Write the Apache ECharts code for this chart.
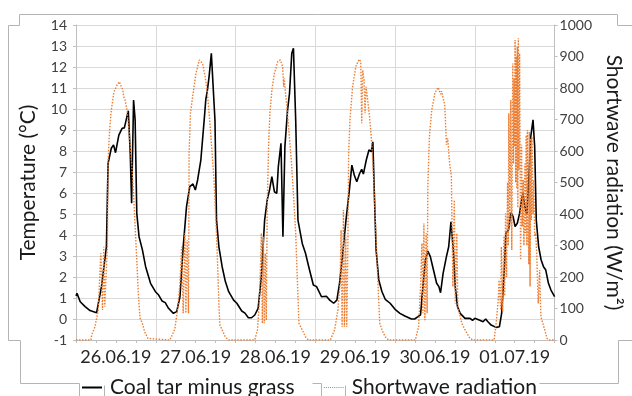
<!DOCTYPE html>
<html><head><meta charset="utf-8">
<script src="https://cdn.jsdelivr.net/npm/echarts@6/dist/echarts.min.js"></script>
<style>html,body{margin:0;padding:0;background:#fff}#c{width:632px;height:396px}</style>
</head><body><div id="c"></div>
<script>
// x values are hours since 26.06.19 00:00
const dayLabels = ['26.06.19','27.06.19','28.06.19','29.06.19','30.06.19','01.07.19'];
const tempName = 'Coal tar minus grass';
const radName = 'Shortwave radiation';
const tempData = [
[0,1.1],[0.3,1.22],[1.27,0.82],[2.74,0.59],[4.22,0.40],[6.2,0.30],[6.7,0.30],[7.67,1.54],[9.15,3.44],[9.65,7.41],
[10.62,8.13],[11.3,8.29],[11.89,7.92],[12.89,8.76],[13.37,8.7],[13.87,9.08],[14.55,9.1],[15.73,9.92],[16.32,7.89],[16.73,5.51],
[17.32,10.43],[17.79,9.48],[18.29,5.03],[18.97,3.92],[19.98,3.29],[20.95,2.49],[22.43,1.70],[23.9,1.30],[24.87,1.14],[25.88,0.86],
[26.85,0.78],[27.83,0.51],[29.3,0.27],[30.3,0.35],[31.28,1.06],[32.25,3.44],[33.25,5.35],[34.23,6.30],[35.2,6.43],[35.9,6.14],
[36.59,6.62],[37.56,7.57],[38.57,9.48],[39.04,10.43],[39.54,10.9],[40.04,11.54],[40.72,12.65],[41.31,12.68],[41.81,9.48],[42.28,4.71],
[42.99,3.44],[43.97,2.49],[44.94,1.78],[45.94,1.30],[47.42,0.90],[48.39,0.75],[49.87,0.38],[50.84,0.28],[51.85,0.06],[52.82,0.06],
[53.79,0.19],[54.8,0.51],[55.77,2.02],[56.75,4.71],[57.54,5.67],[58.22,6.14],[58.93,6.78],[59.69,6.06],[60.4,5.98],[60.87,7.25],
[61.67,8.37],[62.26,3.92],[62.85,8.21],[63.65,9.95],[64.24,10.75],[64.92,12.65],[65.42,12.89],[66.1,9.48],[66.78,4.71],[68.07,3.60],
[69.05,3.13],[70.02,2.49],[71.41,1.62],[72.38,1.54],[73.86,1.06],[75.33,1.08],[76.34,0.90],[77.52,0.75],[78.49,0.9],[79.29,1.70],
[80.26,3.13],[81.23,4.71],[82.24,6.14],[83.0,7.33],[83.71,6.86],[84.48,6.54],[85.36,6.94],[85.95,7.13],[86.46,6.90],[87.34,7.57],
[88.14,8.05],[88.82,7.97],[89.32,8.44],[89.7,6.30],[90.29,3.29],[91.09,1.86],[92.06,1.30],[93.04,0.94],[94.51,0.75],[95.99,0.46],
[97.46,0.27],[98.94,0.14],[100.92,0.0],[101.89,0.0],[102.89,0.11],[103.66,0.2],[104.37,1.54],[105.13,2.81],[105.84,3.24],[106.61,2.97],
[107.32,2.49],[107.7,2.41],[108.5,1.70],[109.18,1.54],[109.68,1.25],[110.45,2.17],[111.45,2.97],[112.13,3.44],[112.81,4.63],[113.6,3.13],
[114.1,1.54],[114.78,0.59],[115.58,0.27],[117.05,0.03],[118.53,0.03],[119.3,-0.06],[120.0,0.03],[121.48,-0.06],[122.46,-0.13],[123.25,0.0],
[123.93,-0.13],[124.9,-0.29],[126.38,-0.40],[127.38,-0.37],[128.06,0.27],[128.86,2.33],[129.33,4.08],[130.13,4.24],[130.81,5.06],[131.52,4.87],
[132.1,4.40],[132.78,4.56],[133.46,5.03],[134.05,5.67],[134.46,5.98],[135.05,5.35],[135.64,4.95],[136.23,6.62],[136.82,8.68],[137.5,9.48],
[138.0,8.21],[138.48,4.71],[139.19,3.44],[139.95,2.81],[140.66,2.49],[141.34,2.33],[142.14,1.70],[142.9,1.38],[144,1.06]
];
const radData = [
[0,0],[4.5,0],[4.72,16],[5.7,42],[6.7,95],[7.47,275],[7.97,95],[8.35,296],[8.65,106],[9.15,233],[9.44,296],[9.65,571],[10.12,667],[10.62,730],
[11.42,788],[12.39,810],[13.07,820],[13.3,812],[13.57,815],[14.08,794],[14.37,772],[14.75,762],[15.34,730],[16.02,656],[16.73,561],[17.32,466],
[17.79,360],[18.29,254],[18.8,138],[19.27,69],[19.98,53],[20.66,26],[21.63,5],[22.13,0],
[28.24,0],[29.72,34],[30.69,108],[31.28,180],[31.78,296],[32.25,85],[32.76,339],[33.05,85],[33.44,317],[33.85,85],[34.03,593],[34.44,720],
[35.12,775],[36.09,846],[37.09,889],[38.07,878],[38.86,836],[39.54,783],[40.22,698],[40.81,614],[41.52,508],[41.99,402],[42.49,275],[42.99,116],
[43.29,48],[43.97,32],[44.94,10],[45.94,0],
[53.79,0],[54.59,32],[55.09,106],[55.47,222],[55.77,339],[56.07,53],[56.36,328],[56.66,53],[56.95,275],[57.25,63],[57.54,423],[57.93,614],
[58.34,720],[58.93,794],[59.69,846],[60.7,884],[61.47,889],[62.17,868],[62.47,804],[62.64,831],[62.94,794],[63.44,741],[64.12,656],[64.83,561],
[65.42,466],[66.1,339],[66.6,190],[67.08,53],[68.07,32],[69.05,10],[69.94,0],
[76.5,0],[76.81,5],[77.81,32],[78.79,95],[79.46,180],[79.76,349],[80.06,42],[80.47,413],[80.76,42],[81.15,328],[81.44,42],[81.74,243],
[82.03,593],[82.42,698],[83.21,804],[84.19,868],[85.19,891],[85.67,884],[85.96,688],[86.26,857],[86.67,825],[86.96,720],[87.26,804],[87.64,772],
[88.32,709],[88.91,635],[89.41,540],[89.91,423],[90.39,296],[90.89,169],[91.39,53],[92.07,32],[93.04,10],[94.05,0],
[102.1,0],[102.39,5],[103.07,42],[103.66,169],[104.08,307],[104.37,85],[104.67,370],[104.97,63],[105.35,339],[105.64,85],[105.85,487],[106.32,645],
[107.03,730],[108.0,785],[108.98,802],[109.48,800],[109.7,780],[109.98,790],[110.95,745],[111.45,620],[111.83,640],[112.42,560],[112.93,520],[113.4,169],
[113.82,444],[114.11,116],[114.58,339],[114.88,106],[115.38,85],[116.06,53],[117.06,32],[118.53,5],[119.5,0],
[125.8,0],[126.51,63],[127.1,138],[127.28,190],[127.77,95],[127.98,296],[128.36,90],[128.75,330],[128.96,140],[129.25,402],[129.55,200],[129.84,500],
[130.05,300],[130.22,720],[130.52,360],[130.81,762],[131.11,286],[131.41,878],[131.61,560],[131.82,830],[131.99,614],[132.11,952],[132.29,500],[132.49,900],
[132.64,480],[132.78,931],[132.93,420],[133.08,958],[133.23,540],[133.46,910],[133.76,254],[134.05,620],[134.26,360],[134.56,508],[134.76,300],[135.06,560],
[135.23,340],[135.44,650],[135.65,300],[135.82,667],[136.03,400],[136.23,240],[136.41,660],[136.62,170],[136.82,640],[137.0,381],[137.21,645],[137.5,400],
[137.71,508],[138.0,330],[138.3,339],[138.59,280],[138.78,275],[139.07,116],[139.49,222],[139.87,74],[140.26,80],[140.75,42],[141.72,5],[142.52,0],[144,0]
];

const FONT = 'Lato';
const axisGray = '#bfbfbf';
const gridGray = '#d9d9d9';
const frameGray = '#b4b4b4';
const chart = echarts.init(document.getElementById('c'), null, {renderer: 'canvas'});

function frame(points) {
  return {type: 'polyline', silent: true, shape: {points: points.map(p => [p[0] + 0.5, p[1] + 0.5])},
          style: {stroke: frameGray, lineWidth: 1, fill: null}};
}
// legend icons: solid bar and a row of dots
const solidIcon = 'rect';
let dotPath = 'path://';
for (let i = 0; i < 10; i++) dotPath += 'M' + (i * 2) + ',0h1v1h-1z';

chart.setOption({
  animation: false,
  backgroundColor: '#fff',
  grid: {left: 76, right: 68, top: 25, bottom: 56},
  xAxis: [{
    type: 'value', min: 0, max: 144, interval: 6,
    axisLine: {show: true, onZero: false, lineStyle: {color: axisGray}},
    axisTick: {show: true, length: 3, lineStyle: {color: axisGray}},
    splitLine: {show: false},
    axisLabel: {
      formatter: v => (v % 24 === 12 ? dayLabels[Math.floor(v / 24)] : ''),
      fontFamily: FONT, fontSize: 18, color: '#262626', margin: 8
    }
  }, {
    type: 'value', min: 0, max: 144, interval: 24, position: 'bottom',
    axisLine: {show: false}, axisTick: {show: false}, axisLabel: {show: false},
    splitLine: {show: true, lineStyle: {color: gridGray}}
  }],
  yAxis: [{
    type: 'value', min: -1, max: 14, interval: 1, position: 'left',
    name: 'Temperature (°C)', nameLocation: 'middle', nameGap: 37, nameRotate: 90,
    nameTextStyle: {fontFamily: FONT, fontSize: 21, color: '#1a1a1a'},
    axisLine: {show: true, onZero: false, lineStyle: {color: axisGray}},
    axisTick: {show: true, length: 3, lineStyle: {color: axisGray}},
    splitLine: {show: true, lineStyle: {color: gridGray}},
    axisLabel: {fontFamily: FONT, fontSize: 14, color: '#404040', margin: 9}
  }, {
    type: 'value', min: 0, max: 1000, interval: 100, position: 'right',
    name: 'Shortwave radiation (W/m²)', nameLocation: 'middle', nameGap: 45, nameRotate: -90,
    nameTextStyle: {fontFamily: FONT, fontSize: 21, color: '#1a1a1a'},
    axisLine: {show: true, onZero: false, lineStyle: {color: axisGray}},
    axisTick: {show: true, length: 3, lineStyle: {color: axisGray}},
    splitLine: {show: false},
    axisLabel: {fontFamily: FONT, fontSize: 14, color: '#404040', margin: 5, formatter: v => String(v)}
  }],
  legend: {
    left: 82, top: 377, padding: 0, itemWidth: 20, itemHeight: 2, itemGap: 29,
    textStyle: {fontFamily: FONT, fontSize: 21, color: '#1a1a1a', padding: [0, 0, 0, 3]},
    data: [
      {name: tempName, icon: solidIcon, itemStyle: {color: '#000'}},
      {name: radName, icon: dotPath, itemStyle: {color: '#ED7D31'}}
    ]
  },
  series: [{
    name: tempName, type: 'line', xAxisIndex: 0, yAxisIndex: 0, data: tempData,
    symbol: 'none', lineStyle: {color: '#000', width: 1.6}, itemStyle: {color: '#000'}, z: 3
  }, {
    name: radName, type: 'line', xAxisIndex: 0, yAxisIndex: 1, data: radData,
    symbol: 'none', lineStyle: {color: '#ED7D31', width: 1.4, type: [1.5, 1.5]}, itemStyle: {color: '#ED7D31'}, z: 4
  }],
  graphic: [
    frame([[8, 25], [19, 25], [19, 14], [617, 14], [617, 25], [632, 25]]),
    frame([[8, 25], [8, 340], [20, 340], [20, 383], [79, 383], [79, 396]]),
    frame([[104, 385], [104, 396]]),
    frame([[312, 383], [321, 383], [321, 396]]),
    frame([[345, 385], [345, 396]]),
    frame([[539, 383], [618, 383], [618, 340], [632, 340]])
  ]
});
</script></body></html>
